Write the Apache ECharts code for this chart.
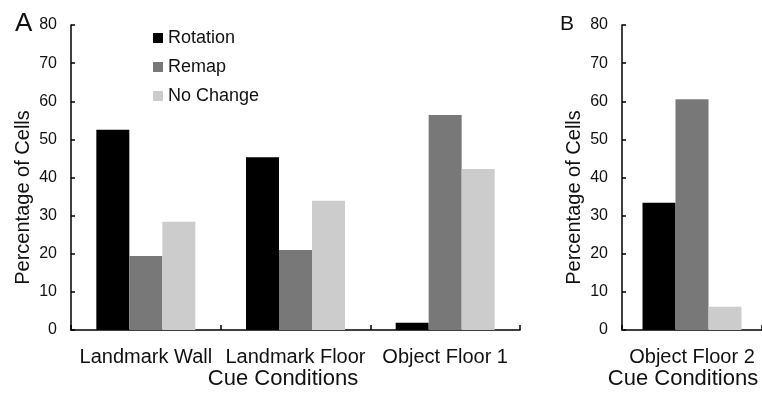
<!DOCTYPE html>
<html>
<head>
<meta charset="utf-8">
<script src="https://cdn.jsdelivr.net/npm/echarts@6/dist/echarts.min.js"></script>
<style>
html,body{margin:0;padding:0;background:#fff;}
#main{width:762px;height:399px;}
</style>
</head>
<body>
<div id="main"></div>
<script>
var categoriesA = ['Landmark Wall', 'Landmark Floor', 'Object Floor 1'];
var categoriesB = ['Object Floor 2'];
var rotationA = [52.5, 45.3, 1.9];
var remapA = [19.4, 21.0, 56.4];
var noChangeA = [28.4, 33.9, 42.2];
var rotationB = [33.4];
var remapB = [60.5];
var noChangeB = [6.1];
var yTicks = [0, 10, 20, 30, 40, 50, 60, 70, 80];

var FONT = 'Liberation Sans';
var TXT = '#111';
var colors = {Rotation: '#000000', Remap: '#787878', 'No Change': '#cccccc'};

var chart = echarts.init(document.getElementById('main'), null, {renderer: 'canvas'});

function yAxisCfg(idx) {
  return {
    type: 'value', gridIndex: idx,
    min: yTicks[0], max: yTicks[yTicks.length - 1], interval: yTicks[1] - yTicks[0],
    name: 'Percentage of Cells', nameLocation: 'middle', nameGap: 38,
    nameMoveOverlap: false,
    nameTextStyle: {fontFamily: FONT, fontSize: 20, color: TXT, padding: [0, 40, 0, 0]},
    axisLine: {show: true, lineStyle: {color: '#000', width: 1.5}},
    axisTick: {show: true, inside: true, length: 4, lineStyle: {color: '#000', width: 1.5}},
    axisLabel: {fontFamily: FONT, fontSize: 16, color: TXT, margin: 14},
    splitLine: {show: false}
  };
}
function xAxisCfg(idx, cats, padRight) {
  return {
    type: 'category', gridIndex: idx, data: cats,
    name: 'Cue Conditions', nameLocation: 'middle', nameGap: 38,
    nameMoveOverlap: false,
    nameTextStyle: {fontFamily: FONT, fontSize: 22, color: TXT, padding: [0, padRight, 0, 0]},
    axisLine: {show: true, lineStyle: {color: '#000', width: 1.5}},
    axisTick: {show: true, inside: true, length: 5, lineStyle: {color: '#000', width: 1.5}},
    axisLabel: {fontFamily: FONT, fontSize: 20, color: TXT, margin: 17, interval: 0},
    splitLine: {show: false}
  };
}
function barSeries(name, data, idx) {
  return {
    name: name, type: 'bar', xAxisIndex: idx, yAxisIndex: idx, data: data,
    barWidth: 33, barGap: '0%',
    itemStyle: {color: colors[name]},
    silent: true
  };
}

chart.setOption({
  animation: false,
  backgroundColor: '#fff',
  legend: {
    orient: 'vertical', left: 148, top: 24,
    itemWidth: 10, itemHeight: 10, itemGap: 11,
    icon: 'rect',
    textStyle: {fontFamily: FONT, fontSize: 18, color: TXT},
    data: ['Rotation', 'Remap', 'No Change']
  },
  grid: [
    {left: 71, top: 25, width: 449, height: 305},
    {left: 622, top: 25, width: 150, height: 305}
  ],
  xAxis: [xAxisCfg(0, categoriesA, 25), xAxisCfg(1, categoriesB, 18)],
  yAxis: [yAxisCfg(0), yAxisCfg(1)],
  series: [
    barSeries('Rotation', rotationA, 0),
    barSeries('Remap', remapA, 0),
    barSeries('No Change', noChangeA, 0),
    barSeries('Rotation', rotationB, 1),
    barSeries('Remap', remapB, 1),
    barSeries('No Change', noChangeB, 1)
  ],
  graphic: [
    {type: 'text', left: 15, top: 11, style: {text: 'A', fontFamily: FONT, fontSize: 26, fill: TXT}},
    {type: 'text', left: 560, top: 14, style: {text: 'B', fontFamily: FONT, fontSize: 21, fill: TXT}}
  ]
});
</script>
</body>
</html>
